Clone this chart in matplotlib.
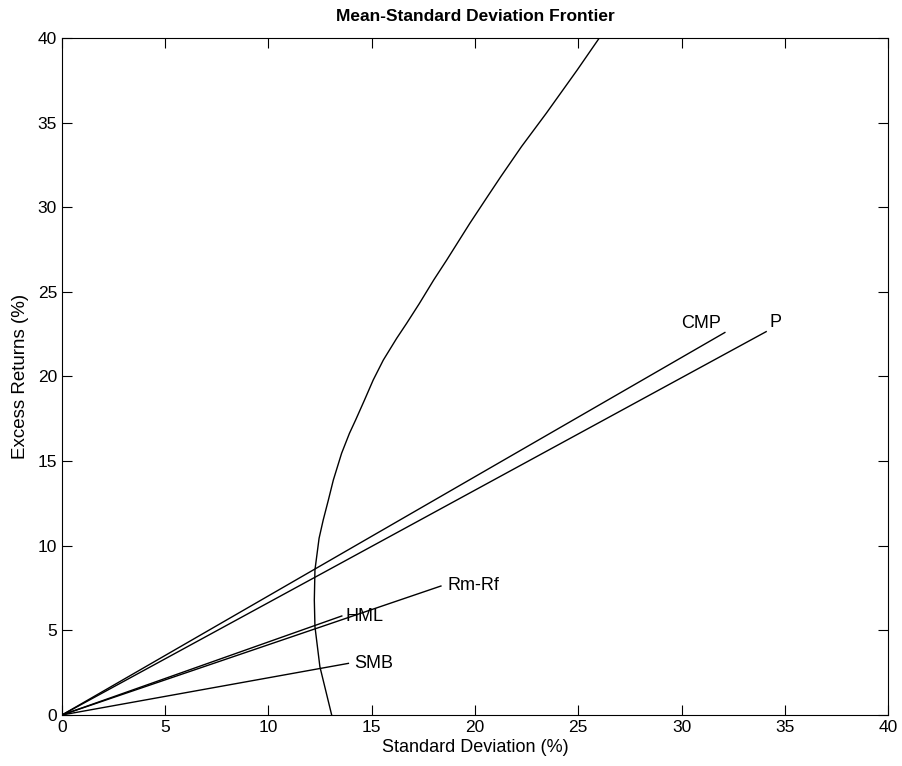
import matplotlib.pyplot as plt

plt.rcParams['font.family'] = ['Liberation Sans', 'DejaVu Sans']

# efficient frontier (std dev, excess return)
frontier_sd = [13.06, 12.49, 12.25, 12.22, 12.25, 12.45, 12.65, 12.90, 13.14,
               13.54, 13.92, 14.22, 14.65, 15.07, 15.56, 16.21, 16.69, 17.3,
               18.0, 18.63, 19.75, 20.6, 21.25, 22.25, 23.45, 24.95, 26.02]
frontier_ret = [0.0, 2.85, 5.22, 6.79, 8.57, 10.44, 11.52, 12.70, 13.88,
                15.46, 16.64, 17.43, 18.61, 19.79, 20.97, 22.26, 23.14, 24.3,
                25.70, 26.88, 29.05, 30.62, 31.81, 33.58, 35.55, 38.11, 40.0]

# rays from origin to each portfolio
names = ['CMP', 'P', 'Rm-Rf', 'HML', 'SMB']
port_sd = [32.1, 34.1, 18.35, 13.55, 13.87]
port_ret = [22.6, 22.65, 7.62, 5.85, 3.05]
label_offsets = [(-1.15, 0.55), (0.45, 0.55), (0.3, 0.05), (0.2, -0.05), (0.3, 0.0)]
label_ha = ['center', 'center', 'left', 'left', 'left']

fig = plt.figure(figsize=(9.02, 7.66), dpi=100)
ax = fig.add_axes([0.0687, 0.0666, 0.9158, 0.8838])

ax.plot(frontier_sd, frontier_ret, color='black', lw=1)
for n, s, r, off, ha in zip(names, port_sd, port_ret, label_offsets, label_ha):
    ax.plot([0, s], [0, r], color='black', lw=1)
    ax.text(s + off[0], r + off[1], n, ha=ha, va='center', fontsize=13)

ax.set_xlim(0, 40)
ax.set_ylim(0, 40)
ax.set_xticks(range(0, 41, 5))
ax.set_yticks(range(0, 41, 5))
ax.tick_params(direction='in', length=7, top=True, right=True, labelsize=12.5)
ax.set_xlabel('Standard Deviation (%)', fontsize=13, labelpad=3)
ax.set_ylabel('Excess Returns (%)', fontsize=13.5, labelpad=6)
ax.set_title('Mean-Standard Deviation Frontier', fontsize=12.5, fontweight='bold', pad=12)

plt.savefig('out.png', dpi=100)
